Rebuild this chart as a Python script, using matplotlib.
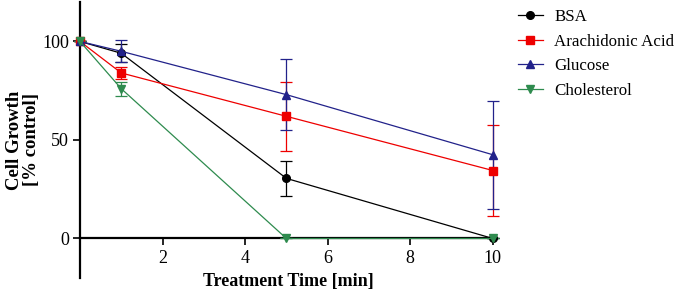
import matplotlib.pyplot as plt

plt.rcParams['font.family'] = ['Liberation Serif', 'DejaVu Serif']

time = [0, 1, 5, 10]
bsa = [100, 94, 30.5, 0]
bsa_err = [0, 4.5, 9, 0]
arach = [100, 84, 62, 34.5]
arach_err = [0, 3, 17.5, 23]
glucose = [100, 95, 73, 42.5]
glucose_err = [0, 5.5, 18, 27.5]
chol = [100, 76, 0, 0]
chol_err = [0, 3.5, 0, 0]

fig = plt.figure(figsize=(6.78, 2.91), dpi=100)
ax = fig.add_axes([0.118, 0.045, 0.615, 0.948])

series = [
    ("BSA", bsa, bsa_err, "black", "o"),
    ("Arachidonic Acid", arach, arach_err, "#ee0000", "s"),
    ("Glucose", glucose, glucose_err, "#22228a", "^"),
    ("Cholesterol", chol, chol_err, "#2e8b4e", "v"),
]
handles = []
for name, vals, err, col, mk in series:
    eb = ax.errorbar(time, vals, yerr=err, color=col, marker=mk, markersize=5.5,
                     linewidth=0.9, elinewidth=0.9, capsize=4, capthick=0.9,
                     label=name, clip_on=False, zorder=3)
    handles.append(eb[0])

ax.set_xlim(0, 10.1)
ax.set_ylim(-20, 120)
ax.spines['top'].set_visible(False)
ax.spines['right'].set_visible(False)
ax.spines['bottom'].set_position(('data', 0))
ax.spines['bottom'].set_bounds(0, 10)
ax.spines['bottom'].set_linewidth(1.6)
ax.spines['left'].set_linewidth(1.6)
ax.set_xticks([2, 4, 6, 8, 10])
ax.set_yticks([0, 50, 100])
ax.tick_params(labelsize=13, width=1.2, length=5, pad=3)

ax.set_xlabel("Treatment Time [min]", fontsize=13, fontweight='bold')
ax.xaxis.set_label_coords(0.5, -0.012)
ax.xaxis.label.set_va('center')
ax.set_ylabel("Cell Growth\n[% control]", fontsize=13.5, fontweight='bold',
              linespacing=1.0)
ax.yaxis.set_label_coords(-0.137, 0.5)
ax.yaxis.label.set_va('center')

fig.legend(handles, [s[0] for s in series], loc='upper left',
           bbox_to_anchor=(0.749, 1.003), frameon=False, fontsize=12.2,
           handlelength=1.45, handletextpad=0.7, labelspacing=0.5,
           borderaxespad=0.2)

fig.savefig("out.png", dpi=100)
